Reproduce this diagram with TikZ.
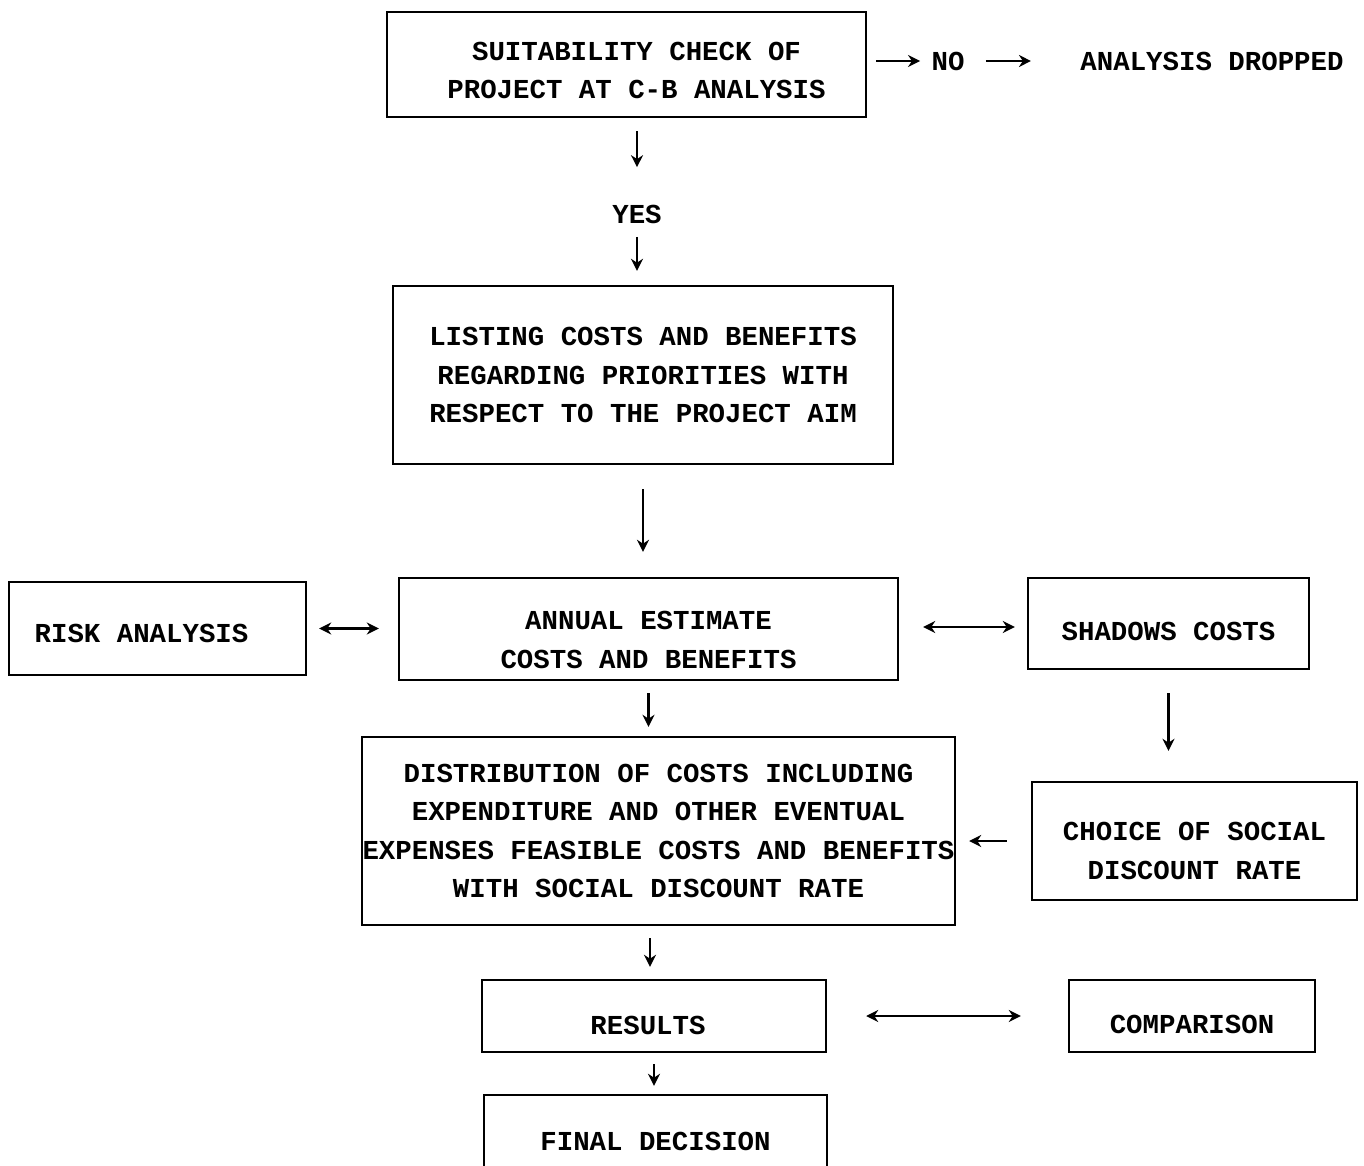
\documentclass[tikz,border=0pt]{standalone}
\usepackage{fontspec}
\newfontfamily\tw{Liberation Mono}
\usetikzlibrary{arrows.meta}
\newcommand{\myst}[1]{\rule{0pt}{#1}}
\begin{document}
\begin{tikzpicture}[x=0.5pt,y=-0.5pt,
  every node/.style={font=\tw\bfseries\fontsize{13.7}{19.3}\selectfont},
  box/.style={draw, line width=1.2pt, align=center, inner sep=0pt},
  lbl/.style={inner sep=4.56pt},
  arr/.style={line width=1.1pt, -{Stealth[length=6pt,width=6pt]}},
  darr/.style={line width=1.1pt, {Stealth[length=6pt,width=6pt]}-{Stealth[length=6pt,width=6pt]}}]
\useasboundingbox (0,0) rectangle (1364,1166);
\clip (0,0) rectangle (1364,1166);
\node[box, minimum width=239.5pt, minimum height=52.5pt] (suit) at (626.5,64.5)
  {\hspace*{10pt}\myst{15pt}SUITABILITY CHECK OF\\\hspace*{10pt}PROJECT AT C-B ANALYSIS};
\node[lbl] (no) at (948,61) {NO};
\node[lbl] (drop) at (1212,61) {ANALYSIS DROPPED};
\node[lbl] (yes) at (637,214) {YES};
\node[box, minimum width=250pt, minimum height=89pt] (list) at (643,375)
  {LISTING COSTS AND BENEFITS\\REGARDING PRIORITIES WITH\\RESPECT TO THE PROJECT AIM};
\node[box, minimum width=249.5pt, minimum height=51pt] (annual) at (648.5,629)
  {\myst{20pt}ANNUAL ESTIMATE\\COSTS AND BENEFITS};
\node[box, minimum width=148.5pt, minimum height=46.5pt] (risk) at (157.5,628.5)
  {\myst{14pt}RISK ANALYSIS\hspace*{16pt}};
\node[box, minimum width=140.5pt, minimum height=45.5pt] (shadow) at (1168.5,623.5)
  {\myst{17pt}SHADOWS COSTS};
\node[box, minimum width=162.5pt, minimum height=59pt] (choice) at (1194.5,841)
  {\myst{19pt}CHOICE OF SOCIAL\\DISCOUNT RATE};
\node[box, minimum width=296.5pt, minimum height=94pt] (dist) at (658.5,831)
  {DISTRIBUTION OF COSTS INCLUDING\\EXPENDITURE AND OTHER EVENTUAL\\EXPENSES FEASIBLE COSTS AND BENEFITS\\WITH SOCIAL DISCOUNT RATE};
\node[box, minimum width=172pt, minimum height=36pt] (results) at (654,1016) {\myst{19pt}RESULTS\hspace*{6pt}};
\node[box, minimum width=123pt, minimum height=36pt] (comp) at (1192,1016) {\myst{18pt}COMPARISON};
\node[box, minimum width=171.5pt, minimum height=46pt] (final) at (655.5,1141) {FINAL DECISION};
% connectors
\draw[arr, shorten <=4.5pt, shorten >=1pt] (suit.east |- no.west) -- (no.west);
\draw[arr, shorten <=6pt, shorten >=20pt] (no.east) -- (no.east -| drop.west);
\draw[arr, shorten <=6.5pt, shorten >=14pt] (yes |- suit.south) -- (yes.north);
\draw[arr, shorten <=2pt, shorten >=7pt] (yes.south) -- (yes.south |- list.north);
\draw[arr, shorten <=12pt, shorten >=12.5pt] (list.south) -- (list.south |- annual.north);
\draw[darr, shorten <=6pt, shorten >=9.5pt] (risk.east) -- (risk.east -| annual.west);
\draw[darr, shorten <=12pt, shorten >=6pt] ([yshift=1pt]annual.east) -- ([yshift=1pt]annual.east -| shadow.west);
\draw[arr, shorten <=11.5pt, shorten >=15pt] (shadow.south) -- (shadow.south |- choice.north);
\draw[arr, shorten <=6pt, shorten >=4.5pt] (annual.south) -- (annual.south |- dist.north);
\draw[arr, shorten <=12pt, shorten >=6.5pt] (choice.west) -- (choice.west -| dist.east);
\draw[arr, shorten <=6pt, shorten >=6pt] ([xshift=-2pt]dist.south -| results.north) -- ([xshift=-2pt]results.north);
\draw[darr, shorten <=19.5pt, shorten >=23.5pt] (results.east) -- (comp.west);
\draw[arr, shorten <=5.5pt, shorten >=4pt] (results.south) -- (results.south |- final.north);
\end{tikzpicture}
\end{document}
